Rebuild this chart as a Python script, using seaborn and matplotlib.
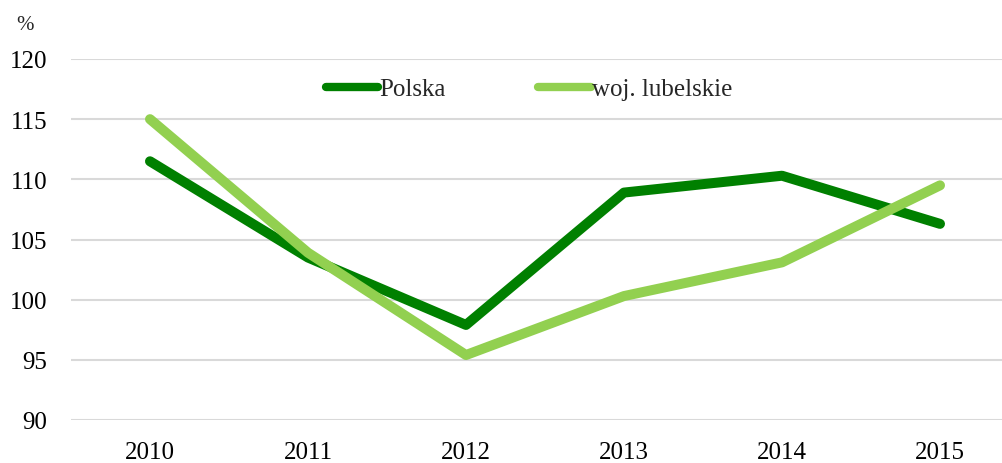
import matplotlib
matplotlib.use("Agg")
import matplotlib.pyplot as plt
from matplotlib.lines import Line2D
import seaborn as sns
import pandas as pd

years = ["2010", "2011", "2012", "2013", "2014", "2015"]
polska = [111.5, 103.5, 97.9, 108.9, 110.3, 106.3]
lubelskie = [115.0, 103.9, 95.4, 100.3, 103.1, 109.5]
series_names = ["Polska", "woj. lubelskie"]
y_ticks = [90, 95, 100, 105, 110, 115, 120]
colors = {"Polska": "#008000", "woj. lubelskie": "#92D050"}

sns.set_style("white")
plt.rcParams["font.family"] = ["Liberation Serif", "DejaVu Serif"]

df = pd.DataFrame({
    "rok": years * 2,
    "wartosc": polska + lubelskie,
    "seria": [series_names[0]] * len(years) + [series_names[1]] * len(years),
})
df["x"] = df["rok"].map({y: i for i, y in enumerate(years)})

fig = plt.figure(figsize=(10.03, 4.64), dpi=100)
ax = fig.add_axes([71 / 1003, 1 - 421 / 464, 948 / 1003, 361 / 464])

sns.lineplot(
    data=df, x="x", y="wartosc", hue="seria", palette=colors,
    linewidth=7.2, ax=ax, legend=False, sort=False,
)
for ln in ax.get_lines():
    ln.set_solid_capstyle("round")
    ln.set_solid_joinstyle("round")

ax.set_xlim(-0.5, len(years) - 0.5)
ax.set_ylim(90, 120)
ax.set_yticks(y_ticks)
ax.set_yticklabels([str(v) for v in y_ticks])
ax.set_xticks(range(len(years)))
ax.set_xticklabels(years)
ax.set_xlabel("")
ax.set_ylabel("")
ax.grid(axis="y", color="#d9d9d9", linewidth=1.5)
ax.set_axisbelow(True)
for s in ax.spines.values():
    s.set_visible(False)
ax.tick_params(axis="both", length=0, labelsize=18, colors="black")
ax.tick_params(axis="y", pad=17)
ax.tick_params(axis="x", pad=15)

fig.text(16 / 1003, 1 - 25 / 464, "%", fontsize=15, va="center", ha="left")

handles = [
    Line2D([], [], color=colors[n], linewidth=6, solid_capstyle="round")
    for n in series_names
]
fig.legend(
    handles, series_names, loc="center", bbox_to_anchor=(529 / 1003, 1 - 90 / 464),
    ncol=2, frameon=False, fontsize=18, handlelength=2.1, handletextpad=0.05,
    columnspacing=3.7,
)

fig.savefig("out.png", dpi=100)
